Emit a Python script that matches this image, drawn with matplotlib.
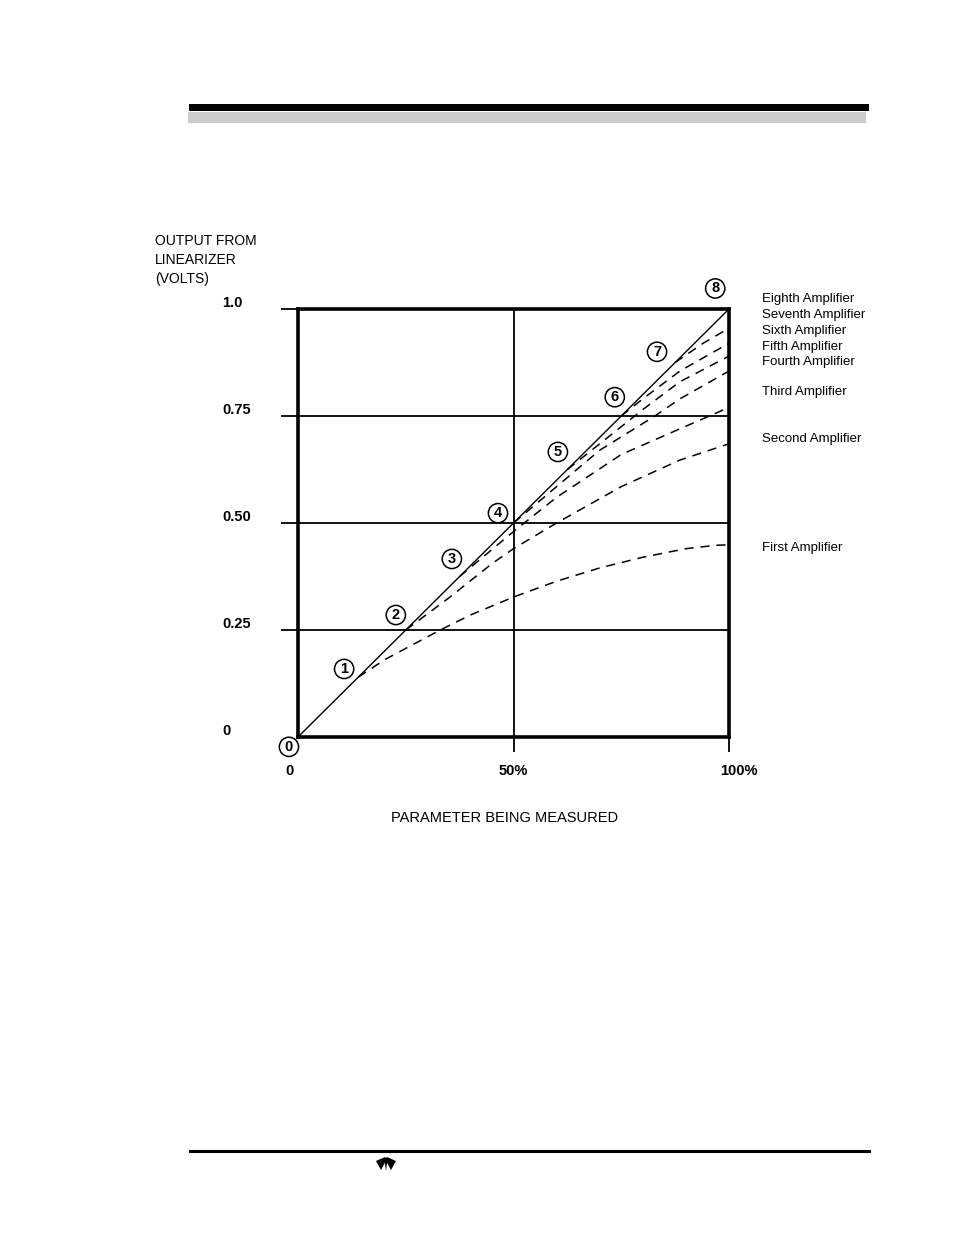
import matplotlib
matplotlib.use("Agg")
import matplotlib.pyplot as plt
from matplotlib.patches import Rectangle, Polygon
from matplotlib.transforms import blended_transform_factory, ScaledTranslation

plt.rcParams['font.family'] = ['Liberation Sans', 'DejaVu Sans']

# ---------------- data ----------------
diag_x = [0.0, 1.0]
diag_y = [0.0, 1.0]

amp1_x = [0.14, 0.2, 0.25, 0.33, 0.4, 0.5, 0.6, 0.7, 0.8, 0.9, 0.97, 1.0]
amp1_y = [0.14, 0.18, 0.207, 0.25, 0.285, 0.327, 0.364, 0.395, 0.42, 0.44, 0.448, 0.449]
amp2_x = [0.25, 0.35, 0.45, 0.5, 0.6, 0.75, 0.886, 1.0]
amp2_y = [0.25, 0.325, 0.405, 0.44, 0.5, 0.585, 0.647, 0.685]
amp3_x = [0.375, 0.5, 0.6, 0.75, 0.886, 1.0]
amp3_y = [0.375, 0.48, 0.56, 0.66, 0.72, 0.77]
amp4_x = [0.5, 0.6, 0.7, 0.828, 0.886, 1.0]
amp4_y = [0.5, 0.585, 0.67, 0.75, 0.79, 0.855]
amp5_x = [0.625, 0.7, 0.8, 0.886, 1.0]
amp5_y = [0.625, 0.685, 0.765, 0.83, 0.89]
amp6_x = [0.75, 0.8, 0.886, 1.0]
amp6_y = [0.75, 0.79, 0.855, 0.92]
amp7_x = [0.875, 0.94, 1.0]
amp7_y = [0.875, 0.92, 0.955]

amp_names = ["Eighth Amplifier", "Seventh Amplifier", "Sixth Amplifier",
             "Fifth Amplifier", "Fourth Amplifier", "Third Amplifier",
             "Second Amplifier", "First Amplifier"]
point_labels = ["0", "1", "2", "3", "4", "5", "6", "7", "8"]

y_ticks = [0.0, 0.25, 0.5, 0.75, 1.0]
y_ticklabels = ["0", "0.25", "0.50", "0.75", "1.0"]
x_ticks = [0.0, 0.5, 1.0]
x_ticklabels = ["0", "50%", "100%"]

# ---------------- figure ----------------
W, H = 954, 1235
fig = plt.figure(figsize=(W / 100, H / 100), dpi=100)

def fx(px):
    return px / W

def fy(py):
    return 1 - py / H

# header bars
fig.add_artist(Rectangle((fx(189), fy(111)), fx(869) - fx(189), fy(104) - fy(111),
                         transform=fig.transFigure, color='black', lw=0))
fig.add_artist(Rectangle((fx(188), fy(123)), fx(866) - fx(188), fy(112) - fy(123),
                         transform=fig.transFigure, color='#cccccc', lw=0))
# footer line
fig.add_artist(plt.Line2D([fx(190), fx(869)], [fy(1151), fy(1151)],
                          transform=fig.transFigure, color='black', lw=2.2))
# small logo
logo_polys = [
    [(376, 1161), (385, 1157), (387, 1159), (381, 1170)],
    [(396, 1161), (387, 1157), (385, 1159), (391, 1170)],
    [(384.5, 1160), (387.5, 1160), (386, 1171)],
]
for poly in logo_polys:
    fig.add_artist(Polygon([(fx(a), fy(b)) for a, b in poly], closed=True,
                           transform=fig.transFigure, color='black', lw=0))

ax = fig.add_axes([fx(298), fy(737), fx(729) - fx(298), fy(309) - fy(737)])
ax.set_xlim(0, 1)
ax.set_ylim(0, 1)
for s in ax.spines.values():
    s.set_linewidth(2.6)
    s.set_color('black')

# grid lines
for yv in y_ticks[1:-1]:
    ax.axhline(yv, color='black', lw=1.3, zorder=1)
ax.axvline(0.5, color='black', lw=1.3, zorder=1)

# ticks (extensions outside)
ax.set_yticks(y_ticks[1:])
ax.set_yticklabels([])
ax.tick_params(axis='y', direction='out', length=12.5, width=1.3, left=True)
ax.set_xticks(x_ticks[1:])
ax.set_xticklabels([])
ax.tick_params(axis='x', direction='out', length=11, width=1.3, bottom=True)

# curves
ax.plot(diag_x, diag_y, color='black', lw=1.0, zorder=3)
dash = (0, (6, 4.5))
for xs, ys in [(amp1_x, amp1_y), (amp2_x, amp2_y), (amp3_x, amp3_y),
               (amp4_x, amp4_y), (amp5_x, amp5_y), (amp6_x, amp6_y),
               (amp7_x, amp7_y)]:
    ax.plot(xs, ys, color='black', lw=1.1, linestyle=dash, zorder=3)

# tick labels
ylab_tr = blended_transform_factory(fig.transFigure, ax.transData) + \
    ScaledTranslation(0, 4 / 72, fig.dpi_scale_trans)
for yv, lab in zip(y_ticks, y_ticklabels):
    ax.text(fx(222), yv, lab, transform=ylab_tr, ha='left', va='center',
            fontsize=10.5, fontweight='bold')
xlab_tr = blended_transform_factory(fig.transFigure, fig.transFigure)
x_label_centers = [290, 513, 739]
for cx, lab in zip(x_label_centers, x_ticklabels):
    fig.text(fx(cx), fy(771), lab, ha='center', va='center',
             fontsize=10.5, fontweight='bold')

# axis titles
fig.text(fx(155), fy(234), "OUTPUT FROM\nLINEARIZER\n(VOLTS)", ha='left', va='top',
         fontsize=10, linespacing=1.45)
fig.text(fx(505), fy(818), "PARAMETER BEING MEASURED", ha='center', va='center',
         fontsize=10.5)

# circled breakpoint numbers
circle_pos = [(-0.021, -0.023), (0.107, 0.159), (0.227, 0.285), (0.357, 0.416),
              (0.464, 0.523), (0.603, 0.666), (0.735, 0.794), (0.833, 0.9),
              (0.968, 1.048)]
for (cx, cy), lab in zip(circle_pos, point_labels):
    ax.text(cx, cy, lab, ha='center', va='center', fontsize=10.5, fontweight='bold',
            clip_on=False, zorder=5,
            bbox=dict(boxstyle='circle,pad=0.18', fc='white', ec='black', lw=1.1))

# amplifier labels
label_y = [1.023, 0.986, 0.949, 0.911, 0.876, 0.806, 0.696, 0.442]
lab_tr = blended_transform_factory(ax.transAxes, ax.transData)
for name, ly in zip(amp_names, label_y):
    ax.text(1.0766, ly, name, transform=lab_tr,
            ha='left', va='center', fontsize=9.5, clip_on=False)

fig.savefig("out.png", dpi=100)
